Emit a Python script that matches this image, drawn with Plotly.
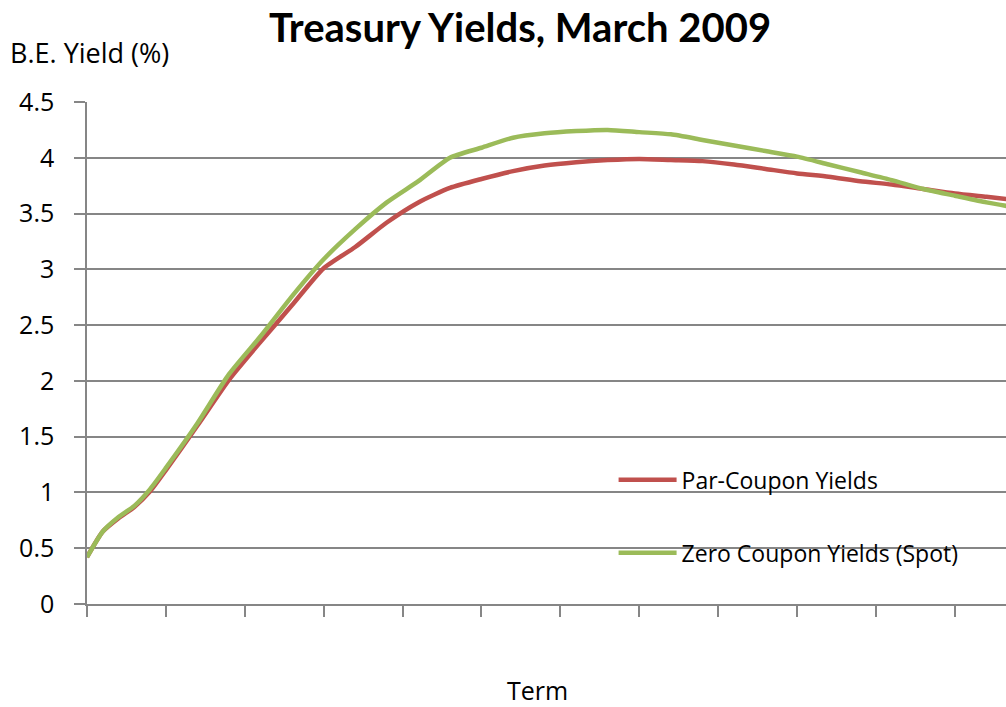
import plotly.graph_objects as go

# term in years (x axis has no labels, ticks every 2.5 years)
term = [0.5, 1, 1.5, 2, 2.5, 3, 4, 5, 6, 7, 8, 9, 10, 11, 12, 13, 14, 15,
        16, 17, 18, 19, 20, 21, 22, 23, 24, 25, 26, 27, 28, 29, 30]

par_yield = [0.42, 0.65, 0.77, 0.87, 1.01, 1.20, 1.60, 2.01, 2.35, 2.68, 3.01,
             3.20, 3.42, 3.60, 3.73, 3.81, 3.88, 3.93, 3.96, 3.98, 3.99, 3.98,
             3.97, 3.94, 3.90, 3.86, 3.83, 3.79, 3.76, 3.72, 3.68, 3.65, 3.62]

zero_yield = [0.42, 0.65, 0.78, 0.88, 1.03, 1.22, 1.62, 2.06, 2.40, 2.76, 3.09,
              3.36, 3.60, 3.79, 4.00, 4.09, 4.18, 4.22, 4.24, 4.25, 4.23, 4.21,
              4.16, 4.11, 4.06, 4.01, 3.94, 3.87, 3.80, 3.72, 3.66, 3.60, 3.55]

red = '#C0504D'
green = '#9BBB59'
grey = '#868686'
font = 'Open Sans, sans-serif'

fig = go.Figure()
fig.add_trace(go.Scatter(x=term, y=par_yield, mode='lines', name='Par-Coupon Yields',
                         line=dict(color=red, width=4.5, shape='spline', smoothing=0.6),
                         legendgroup='a'))
fig.add_trace(go.Scatter(x=term, y=zero_yield, mode='lines', name='Zero Coupon Yields (Spot)',
                         line=dict(color=green, width=4.5, shape='spline', smoothing=0.6),
                         legendgroup='b'))

# white area behind the legend that hides the gridlines
fig.add_shape(type='rect', xref='paper', yref='y', x0=0.505, x1=1.0, y0=0.3, y1=1.2,
              fillcolor='white', line_width=0, layer='between')

fig.update_layout(
    width=1006, height=707,
    margin=dict(l=87, r=0, t=102, b=103),
    paper_bgcolor='white', plot_bgcolor='white',
    font=dict(family=font, color='black', size=24),
    title=dict(text='<b>Treasury Yields, March 2009</b>', x=520 / 1006, xanchor='center',
               y=1 - 28 / 707, yanchor='middle',
               font=dict(size=40, family='Lato, sans-serif')),
    showlegend=True,
    legend=dict(x=0.573, y=0.29, xanchor='left', yanchor='top', bgcolor='rgba(0,0,0,0)',
                font=dict(size=23), traceorder='grouped', tracegroupgap=40, itemwidth=58),
    xaxis=dict(range=[0.5, 29.62], showgrid=False, showline=True, linecolor=grey, linewidth=1.5,
               ticks='outside', ticklen=11, tickcolor=grey, tickwidth=1.5,
               tick0=0.5, dtick=2.5, showticklabels=False, zeroline=False),
    yaxis=dict(range=[0, 4.5], dtick=0.5, showgrid=True, gridcolor=grey, gridwidth=1.5,
               showline=True, linecolor=grey, linewidth=1.5, ticks='outside', ticklen=11,
               tickcolor=grey, tickwidth=1.5, ticklabelstandoff=15, zeroline=False,
               tickfont=dict(size=25)),
    annotations=[
        dict(text='B.E. Yield (%)', xref='paper', yref='paper', x=-79 / 919, y=1 + 50 / 502,
             xanchor='left', yanchor='middle', showarrow=False, font=dict(size=27)),
        dict(text='Term', xref='paper', yref='paper', x=(537 - 87) / 919, y=-86 / 502,
             xanchor='center', yanchor='middle', showarrow=False, font=dict(size=25)),
    ],
)

fig.write_html('out.html', config={'displayModeBar': False},
               post_script="document.body.style.margin='0';document.body.style.overflow='hidden';")
